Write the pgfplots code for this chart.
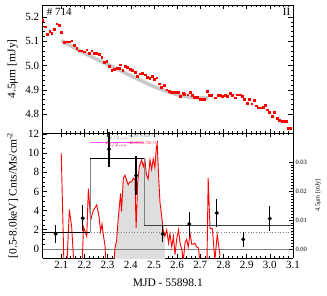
\documentclass[border=0pt]{standalone}
\usepackage{pgfplots}
\pgfplotsset{compat=1.18}
\usepackage{fontspec}
\setmainfont{Liberation Serif}
\definecolor{fillgray}{RGB}{222,222,222}
\definecolor{bandgray}{RGB}{200,200,200}
\definecolor{magline}{RGB}{255,90,255}
\begin{document}
\begin{tikzpicture}
\useasboundingbox (-42.7pt,-37pt) rectangle (284.3pt,258pt);
\pgfplotsset{
  every axis/.append style={
    scale only axis, width=250.3pt, xmin=2.02, xmax=3.1,
    /pgf/number format/assume math mode=true,
    scaled ticks=false,
    tick style={black, line width=0.5pt},
    major tick length=4.5pt, minor tick length=2.2pt,
    tick align=inside,
    axis line style={line width=0.6pt},
    tick label style={font=\fontsize{11}{12}\selectfont},
    label style={font=\fontsize{11.5}{13}\selectfont},
  }
}
% ---------------- bottom panel ----------------
\begin{axis}[
  at={(0pt,0pt)}, anchor=south west, height=125pt,
  ymin=-0.95, ymax=12.1,
  axis y line*=left, axis x line*=box,
  xtick={2.1,2.2,2.3,2.4,2.5,2.6,2.7,2.8,2.9,3.0,3.1},
  xticklabels={2.1,2.2,2.3,2.4,2.5,2.6,2.7,2.8,2.9,3.0,3.1},
  minor x tick num=4,
  ytick={0,2,4,6,8,10,12},
  minor y tick num=3,
  xlabel={MJD - 55898.1},
  xlabel style={at={(axis description cs:0.5,-0.2)}, anchor=center},
  ylabel={[0.5-8.0keV] Cnts/Ms/cm\textsuperscript{-2}},
  ylabel style={at={(axis description cs:-0.12,0.5)}, anchor=center},
]
% gray fill under red curve
\addplot[fill=fillgray, draw=none] coordinates {
(2.332,-5) (2.332,0.1) (2.339,0.9) (2.346,3.2) (2.356,5.8) (2.360,3.9) (2.368,7.4) (2.375,7.7) (2.382,7.2) (2.389,6.7) (2.396,7.0) (2.404,7.0) (2.411,7.4) (2.418,7.2) (2.423,2.2) (2.430,7.0) (2.437,8.6) (2.447,9.3) (2.454,8.6) (2.461,9.3) (2.468,7.7) (2.475,7.3) (2.483,9.3) (2.490,8.3) (2.497,9.4) (2.504,8.5) (2.510,10.5) (2.514,11.0) (2.520,7.7) (2.526,4.9) (2.533,3.5) (2.540,2.0) (2.547,1.3) (2.547,-5)
} -- cycle;
% zero line and dotted mean line
\addplot[gray, line width=0.6pt] coordinates {(2.02,0) (3.1,0)};
\addplot[gray, dotted, line width=0.7pt] coordinates {(2.02,1.78) (3.1,1.78)};
% red curve
\addplot[red, line width=0.9pt] coordinates {
(2.100,10.0) (2.113,-3) (2.122,-3) (2.135,4.1) (2.145,2.3) (2.158,-3) (2.188,-3) (2.196,2.3) (2.203,1.8) (2.210,1.3) (2.217,6.3) (2.227,3.0) (2.238,4.0) (2.253,4.6) (2.263,3.4) (2.270,1.8) (2.276,2.6) (2.282,1.4) (2.289,0.3) (2.295,-3) (2.322,-3) (2.332,0.1) (2.339,0.9) (2.346,3.2) (2.356,5.8) (2.360,3.9) (2.368,7.4) (2.375,7.7) (2.382,7.2) (2.389,6.7) (2.396,7.0) (2.404,7.0) (2.411,7.4) (2.418,7.2) (2.423,2.2) (2.430,7.0) (2.437,8.6) (2.447,9.3) (2.454,8.6) (2.461,9.3) (2.468,7.7) (2.475,7.3) (2.483,9.3) (2.490,8.3) (2.497,9.4) (2.504,8.5) (2.510,10.5) (2.514,11.0) (2.520,7.7) (2.526,4.9) (2.533,3.5) (2.540,2.0) (2.547,1.3) (2.555,2.0) (2.563,0.6) (2.569,1.6) (2.577,0.2) (2.584,1.3) (2.591,-0.6) (2.598,1.0) (2.606,2.0) (2.613,0.5) (2.620,0.0) (2.627,-1.2) (2.634,0.6) (2.641,1.0) (2.648,0.2) (2.656,1.6) (2.663,0.5) (2.670,0.5) (2.677,0.6) (2.684,0.2) (2.692,0.1) (2.699,-1.5) (2.710,-3) (2.728,-3) (2.734,7.4) (2.742,2.15) (2.752,2.1) (2.763,-1.2) (2.773,1.5) (2.785,-0.7)
};
% step (Bayesian blocks)
\addplot[gray, line width=0.6pt] coordinates {(2.225,1.75) (2.225,9.45)};
\addplot[gray, line width=0.6pt] coordinates {(2.457,9.45) (2.457,2.45)};
\addplot[black, line width=1pt] coordinates {(2.02,1.75) (2.225,1.75)};
\addplot[black, line width=1pt] coordinates {(2.225,9.45) (2.457,9.45)};
\addplot[black!75, line width=1.1pt] coordinates {(2.457,2.45) (3.1,2.45)};
% magenta line
\addplot[magline, line width=0.9pt] coordinates {(2.224,11.14) (2.454,11.14)};
% data points with error bars
\addplot[black, only marks, mark=*, mark size=1.8pt,
  error bars/.cd, y dir=both, y explicit, error bar style={line width=1.2pt}, error mark=none]
  coordinates {
(2.076,1.57) +- (0,0.97)
(2.193,3.2) +- (0,1.35)
(2.306,10.4) +- (0,1.8)
(2.423,7.65) +- (0,2.05)
(2.538,1.55) +- (0,0.8)
(2.652,2.6) +- (0,1.25)
(2.771,3.75) +- (0,1.5)
(2.885,1.0) +- (0,0.75)
(3.000,3.17) +- (0,1.35)
};
\node[gray, font=\fontsize{4.2}{5}\selectfont, inner sep=0pt] at (axis cs:2.405,11.62) {E$_{1/2,\mathrm{peak}}$=0.597/0.020 ???};
\node[red!80!magenta, font=\fontsize{4.2}{5}\selectfont, inner sep=0pt] at (axis cs:2.405,10.88) {E$_{1/2,\mathrm{peak}}$=40.89/24.730 ???};
\end{axis}
% ---------------- right axis ----------------
\begin{axis}[
  at={(0pt,0pt)}, anchor=south west, height=125pt,
  ymin=-0.003138, ymax=0.03997,
  axis y line*=right, axis x line=none,
  ytick={0,0.01,0.02,0.03},
  yticklabels={0.00,0.01,0.02,0.03},
  minor y tick num=9,
  tick label style={font=\fontsize{6.5}{7}\selectfont},
  yticklabel style={xshift=-1pt},
  ylabel={4.5μm [mJy]},
  ylabel style={font=\fontsize{6.3}{7}\selectfont, at={(axis description cs:1.1,0.5)}, anchor=center},
]
\addplot[draw=none] coordinates {(2.5,0)};
\end{axis}
% ---------------- top panel ----------------
\begin{axis}[
  at={(0pt,125pt)}, anchor=south west, height=128pt,
  ymin=4.722, ymax=5.249,
  xtick={2.1,2.2,2.3,2.4,2.5,2.6,2.7,2.8,2.9,3.0,3.1},
  xticklabel=\empty,
  minor x tick num=4,
  ytick={4.8,4.9,5.0,5.1,5.2},
  yticklabels={4.8,4.9,5.0,5.1,5.2},
  minor y tick num=4,
  ylabel={4.5μm [mJy]},
  ylabel style={at={(axis description cs:-0.12,0.5)}, anchor=center},
]
\addplot[bandgray, line width=3.6pt] coordinates {
(2.10,5.102) (2.15,5.076) (2.20,5.051) (2.25,5.027) (2.30,5.004) (2.35,4.982) (2.40,4.958) (2.45,4.935) (2.50,4.913) (2.55,4.895) (2.60,4.880) (2.65,4.870) (2.70,4.866) (2.735,4.866)
};
\addplot[red, only marks, mark=square*, mark size=0.9pt] coordinates {
(2.020,5.188) (2.030,5.160) (2.040,5.129) (2.050,5.142) (2.059,5.133) (2.070,5.150) (2.080,5.172) (2.090,5.165) (2.101,5.136)
(2.112,5.095) (2.124,5.098) (2.135,5.098) (2.145,5.102) (2.156,5.082) (2.167,5.071) (2.178,5.061) (2.188,5.061) (2.198,5.057) (2.210,5.065) (2.220,5.052) (2.231,5.061) (2.243,5.050) (2.253,5.050) (2.264,5.045) (2.275,5.034) (2.284,5.013) (2.296,5.016) (2.306,4.996) (2.318,4.982) (2.328,4.986) (2.339,4.990) (2.349,4.990)
(2.356,5.003) (2.365,4.982) (2.375,4.997) (2.385,4.993) (2.397,4.986) (2.407,4.980) (2.418,4.973) (2.428,4.955) (2.440,4.966) (2.450,4.969) (2.461,4.962) (2.471,4.952) (2.482,4.948) (2.493,4.956) (2.502,4.942) (2.512,4.950) (2.523,4.925) (2.533,4.911) (2.543,4.918) (2.555,4.900) (2.566,4.894) (2.576,4.891) (2.586,4.891) (2.594,4.889) (2.605,4.891) (2.614,4.875) (2.625,4.885) (2.632,4.882) (2.646,4.880) (2.656,4.889) (2.665,4.878) (2.675,4.871) (2.685,4.871) (2.697,4.862) (2.708,4.861) (2.718,4.862) (2.730,4.895)
(2.739,4.876) (2.748,4.876) (2.763,4.867) (2.777,4.876) (2.788,4.879) (2.796,4.873) (2.806,4.876) (2.816,4.873) (2.828,4.887) (2.838,4.876) (2.850,4.867) (2.860,4.880) (2.872,4.880) (2.882,4.873) (2.891,4.860) (2.901,4.846) (2.912,4.860) (2.922,4.843) (2.932,4.857) (2.941,4.834) (2.951,4.826) (2.961,4.826) (2.970,4.828) (2.980,4.837) (2.988,4.818) (2.999,4.809) (3.009,4.791) (3.019,4.809) (3.031,4.782) (3.041,4.776) (3.052,4.769) (3.062,4.769) (3.073,4.769) (3.080,4.742) (3.090,4.742)
};
\node[anchor=north west, inner sep=0pt, font=\fontsize{11}{12}\selectfont] at (axis description cs:0.016,0.975) {\# 714};
\node[anchor=north east, inner sep=0pt, font=\fontsize{11}{12}\selectfont] at (axis description cs:0.99,0.975) {II};
\end{axis}
\end{tikzpicture}
\end{document}
